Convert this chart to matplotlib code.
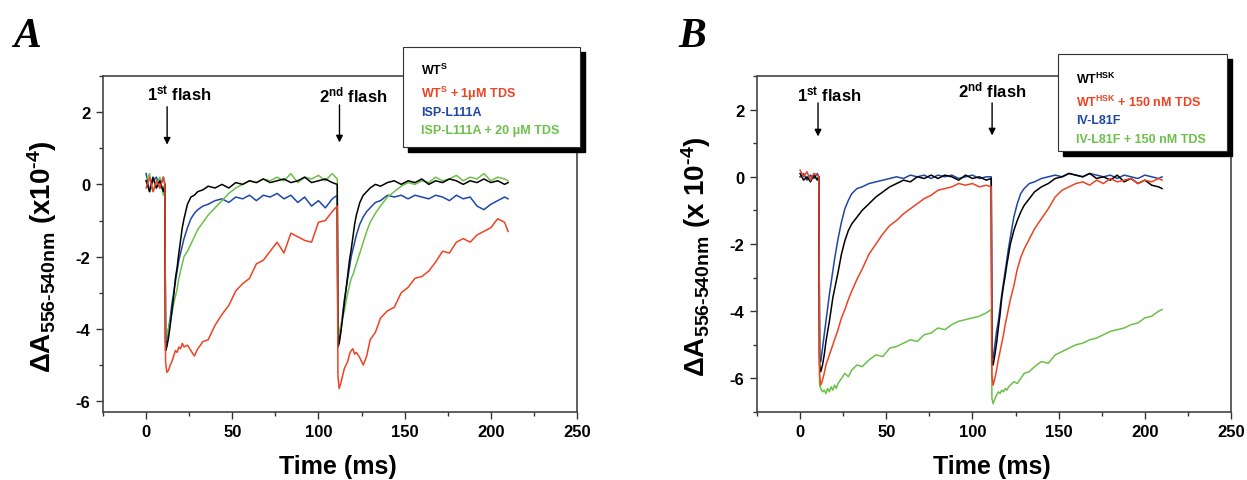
import matplotlib
matplotlib.use('Agg')
import matplotlib.pyplot as plt
from matplotlib.patches import Rectangle
from matplotlib.ticker import MultipleLocator

plt.rcParams['font.family'] = ['Liberation Sans', 'DejaVu Sans']
plt.rcParams['font.weight'] = 'bold'
plt.rcParams['axes.unicode_minus'] = False
plt.rcParams['mathtext.fontset'] = 'custom'
plt.rcParams['mathtext.rm'] = 'Liberation Sans:bold'
plt.rcParams['mathtext.bf'] = 'Liberation Sans:bold'
plt.rcParams['mathtext.it'] = 'Liberation Sans:bold:italic'
plt.rcParams['mathtext.default'] = 'rm'

# time axis shared by all traces (ms); flashes at ~11 ms and ~111 ms
t_ms = [0, 2, 4, 6, 8, 10, 10.9,
        11.3, 12, 13, 14, 15, 16, 17, 18, 19, 20, 21, 22,
        24, 26, 28, 30, 33, 36, 40,
        44, 48, 52, 56, 60, 64, 68, 72, 76, 80, 84, 88, 92, 96, 100, 104, 108,
        110.9, 111.3,
        112, 113, 114, 115, 116, 117, 118, 119, 120, 121, 122,
        124, 126, 128, 130, 133, 136, 140,
        144, 148, 152, 156, 160, 164, 168, 172, 176, 180, 184, 188, 192, 196, 200, 204, 208,
        210]

# panel A  (x 1e-4 absorbance)
a_wt = [0.1, -0.2, 0.2, -0.1, 0.1, -0.2, 0.0,
        -4.6, -4.5, -4.25, -3.9, -3.5, -3.1, -2.6, -2.3, -1.9, -1.55, -1.2, -0.95,
        -0.55, -0.35, -0.3, -0.2, -0.15, -0.05, -0.1,
        0.0, -0.1, 0.05, 0.0, 0.1, 0.05, 0.15, 0.05, 0.1, 0.15, 0.05, 0.1, 0.2, 0.05, 0.1, 0.15, 0.05,
        0.0, -4.5,
        -4.4, -4.1, -3.7, -3.3, -2.9, -2.5, -2.1, -1.8, -1.45, -1.1, -0.85,
        -0.5, -0.3, -0.2, -0.1, 0.0, -0.05, 0.05,
        0.1, 0.0, 0.1, 0.05, 0.15, 0.0, 0.1, 0.05, 0.15, 0.1, 0.0, 0.1, 0.05, 0.15, 0.05, 0.1, 0.0,
        0.05]
a_wt_tds = [-0.1, 0.2, -0.2, 0.1, -0.1, 0.2, 0.0,
            -4.9, -5.2, -5.15, -5.0, -4.9, -4.75, -4.6, -4.65, -4.5, -4.55, -4.4, -4.5,
            -4.45, -4.6, -4.75, -4.55, -4.35, -4.3, -3.9,
            -3.6, -3.35, -2.95, -2.75, -2.6, -2.2, -2.1, -1.85, -1.6, -1.9, -1.35, -1.45, -1.55, -1.6, -1.05, -1.0, -0.75,
            -0.6, -5.3,
            -5.65, -5.5, -5.3, -5.1, -5.0, -4.9, -4.7, -4.6, -4.55, -4.7, -4.65,
            -4.8, -5.0, -4.75, -4.3, -4.1, -3.7, -3.5,
            -3.4, -3.0, -2.85, -2.6, -2.55, -2.4, -2.15, -1.85, -1.9, -1.6, -1.5, -1.6, -1.4, -1.3, -1.2, -0.95, -1.05,
            -1.3]
a_isp = [0.3, -0.2, 0.1, 0.2, -0.1, 0.2, 0.0,
         -4.4, -4.3, -4.0, -3.7, -3.3, -3.0, -2.7, -2.4, -2.1, -1.9, -1.7, -1.5,
         -1.2, -0.95, -0.8, -0.7, -0.6, -0.55, -0.45,
         -0.4, -0.5, -0.35, -0.4, -0.3, -0.45, -0.3, -0.35, -0.25, -0.4, -0.3, -0.5, -0.35, -0.6, -0.45, -0.65, -0.4,
         -0.3, -4.4,
         -4.3, -4.0, -3.6, -3.2, -2.9, -2.6, -2.3, -2.0, -1.8, -1.6, -1.4,
         -1.1, -0.9, -0.75, -0.65, -0.5, -0.45, -0.3,
         -0.35, -0.3, -0.4, -0.3, -0.35, -0.4, -0.3, -0.35, -0.45, -0.3, -0.4, -0.35, -0.6, -0.7, -0.55, -0.45, -0.35,
         -0.4]
a_isp_tds = [0.1, 0.3, -0.2, 0.0, 0.2, -0.3, -0.1,
             -4.3, -4.2, -4.0, -3.8, -3.55, -3.3, -3.1, -2.9, -2.6, -2.4, -2.2, -2.0,
             -1.85, -1.65, -1.45, -1.25, -1.05, -0.85, -0.65,
             -0.45, -0.25, -0.1, 0.0, 0.1, 0.05, 0.15, 0.1, 0.2, 0.1, 0.3, 0.05, 0.2, 0.15, 0.25, 0.1, 0.3,
             0.15, -4.2,
             -4.1, -3.9, -3.7, -3.5, -3.25, -3.0, -2.8, -2.6, -2.5, -2.35, -2.2,
             -1.9, -1.6, -1.3, -1.05, -0.8, -0.6, -0.35,
             -0.2, -0.05, 0.05, 0.0, 0.1, 0.05, 0.2, 0.1, 0.15, 0.25, 0.1, 0.2, 0.15, 0.3, 0.1, 0.2, 0.15,
             0.1]

# panel B
b_wt = [0.1, -0.1, 0.0, -0.15, 0.05, -0.1, 0.0,
        -5.6, -5.8, -5.6, -5.3, -4.9, -4.6, -4.3, -3.95, -3.6, -3.35, -3.1, -2.85,
        -2.3, -1.9, -1.6, -1.4, -1.2, -1.0, -0.8,
        -0.6, -0.45, -0.3, -0.2, -0.1, -0.15, 0.0, -0.05, 0.05, -0.05, 0.05, 0.0, -0.1, 0.05, -0.05, 0.0, -0.1,
        -0.05, -5.5,
        -5.6, -5.3, -4.95, -4.5, -4.1, -3.6, -3.25, -2.95, -2.6, -2.3, -2.0,
        -1.6, -1.3, -1.05, -0.85, -0.65, -0.45, -0.3,
        -0.2, -0.05, 0.0, 0.1, 0.05, 0.0, 0.1, -0.05, 0.0, -0.1, 0.05, -0.15, -0.05, -0.2, -0.1, -0.25, -0.3,
        -0.35]
b_wt_tds = [0.2, 0.0, 0.15, -0.1, 0.1, 0.05, 0.0,
            -5.9, -6.2, -6.05, -5.85, -5.6, -5.45, -5.3, -5.15, -5.0, -4.85, -4.7, -4.55,
            -4.2, -3.95, -3.65, -3.4, -3.05, -2.75, -2.3,
            -2.0, -1.7, -1.45, -1.3, -1.1, -0.95, -0.8, -0.65, -0.55, -0.4, -0.35, -0.3, -0.2, -0.25, -0.2, -0.3, -0.25,
            -0.3, -5.9,
            -6.2, -6.0, -5.75, -5.45, -5.2, -4.95, -4.7, -4.4, -4.15, -3.9, -3.65,
            -3.25, -2.75, -2.4, -2.15, -1.85, -1.55, -1.25,
            -0.95, -0.6, -0.4, -0.3, -0.2, -0.15, -0.25, -0.1, -0.2, -0.05, -0.15, -0.1, -0.05, -0.2, -0.1, -0.15, -0.05,
            -0.1]
b_iv = [0.0, 0.1, -0.1, 0.05, -0.05, 0.1, 0.0,
        -5.4, -5.5, -5.1, -4.7, -4.3, -3.9, -3.5, -3.15, -2.8, -2.45, -2.15, -1.85,
        -1.35, -0.95, -0.7, -0.5, -0.35, -0.3, -0.2,
        -0.15, -0.1, -0.05, 0.0, -0.05, 0.05, 0.0, 0.05, -0.05, 0.05, 0.0, 0.05, -0.05, 0.0, 0.05, -0.05, 0.0,
        0.0, -5.3,
        -5.4, -5.0, -4.6, -4.3, -3.9, -3.5, -3.15, -2.8, -2.45, -2.1, -1.8,
        -1.2, -0.8, -0.5, -0.35, -0.2, -0.15, -0.05,
        0.0, 0.05, 0.0, 0.1, 0.05, 0.0, 0.1, 0.05, 0.0, 0.05, -0.05, 0.05, 0.0, -0.05, 0.05, 0.0, -0.05,
        0.0]
b_iv_tds = [0.0, 0.05, -0.05, 0.0, 0.05, -0.05, 0.0,
            -6.2, -6.3, -6.4, -6.35, -6.45, -6.3, -6.4, -6.25, -6.35, -6.2, -6.3, -6.15,
            -6.0, -5.85, -5.95, -5.75, -5.6, -5.65, -5.45,
            -5.3, -5.35, -5.1, -5.05, -4.95, -4.85, -4.9, -4.7, -4.65, -4.5, -4.55, -4.4, -4.3, -4.25, -4.2, -4.15, -4.05,
            -3.95, -6.6,
            -6.75, -6.6, -6.5, -6.4, -6.45, -6.35, -6.4, -6.3, -6.35, -6.25, -6.2,
            -6.1, -6.15, -6.0, -5.85, -5.8, -5.65, -5.5,
            -5.55, -5.3, -5.2, -5.1, -5.0, -4.95, -4.85, -4.8, -4.7, -4.6, -4.55, -4.5, -4.4, -4.35, -4.2, -4.15, -4.0,
            -3.95]

BLACK = '#000000'
RED = '#ee4322'
BLUE = '#1f47a6'
GREEN = '#6cc04a'

W, H = 1247, 481
fig = plt.figure(figsize=(W / 100, H / 100), dpi=100)
axA = fig.add_axes([103 / W, 1 - 413 / H, 474 / W, 336 / H])
axB = fig.add_axes([757 / W, 1 - 413 / H, 474 / W, 336 / H])


def style_axes(ax, ylim, ylabel):
    ax.set_xlim(-25, 250)
    ax.set_ylim(*ylim)
    ax.xaxis.set_major_locator(MultipleLocator(50))
    ax.xaxis.set_minor_locator(MultipleLocator(25))
    ax.yaxis.set_major_locator(MultipleLocator(2))
    ax.yaxis.set_minor_locator(MultipleLocator(1))
    ax.tick_params(which='both', direction='out', top=False, right=False,
                   color='#333333', width=1.0)
    ax.tick_params(which='major', length=5, labelsize=12, pad=4)
    ax.tick_params(which='minor', length=3)
    for s in ax.spines.values():
        s.set_color('#444444')
        s.set_linewidth(1.2)
    for lab in ax.get_xticklabels() + ax.get_yticklabels():
        lab.set_fontweight('bold')
    ax.set_xlabel('Time (ms)', fontsize=18, fontweight='bold', va='top')
    ax.xaxis.set_label_coords(0.495, -0.125)
    ax.set_ylabel(ylabel, fontsize=20, fontweight='bold')
    ax.yaxis.set_label_coords(-0.092, 0.465)


def flash_marks(ax, items):
    for label, tx, ty, ax_x, y_top, y_tip in items:
        ax.text(tx, ty, label, fontsize=12, fontweight='bold', ha='center', va='baseline')
        ax.annotate('', xy=(ax_x, y_tip), xytext=(ax_x, y_top),
                    arrowprops=dict(arrowstyle='-|>', color='black', lw=1.0,
                                    mutation_scale=10, shrinkA=0, shrinkB=0))


def draw_legend(x0, y0, x1, y1, tx, entries, baselines):
    shadow = Rectangle(((x0 + 5) / W, 1 - (y1 + 5) / H), (x1 - x0) / W, (y1 - y0) / H,
                       transform=fig.transFigure, facecolor='black', edgecolor='black', zorder=5)
    box = Rectangle((x0 / W, 1 - y1 / H), (x1 - x0) / W, (y1 - y0) / H,
                    transform=fig.transFigure, facecolor='white', edgecolor='#333333',
                    lw=0.8, zorder=6)
    fig.patches.extend([shadow, box])
    for (label, color), b in zip(entries, baselines):
        fig.text(tx / W, 1 - b / H, label, color=color, fontsize=9, fontweight='bold',
                 va='baseline', zorder=7)


# ---- panel A ----
axA.plot(t_ms, a_isp, color=BLUE, lw=1.1)
axA.plot(t_ms, a_isp_tds, color=GREEN, lw=1.1)
axA.plot(t_ms, a_wt, color=BLACK, lw=1.1)
axA.plot(t_ms, a_wt_tds, color=RED, lw=1.1)
style_axes(axA, (-6.3, 3), r'ΔA$_{556\text{-}540nm}$ (x10$^{\text{-}4}$)')
flash_marks(axA, [(r'1$^{st}$ flash', 19, 2.34, 12.2, 2.15, 1.1),
                  (r'2$^{nd}$ flash', 120, 2.31, 112.2, 2.2, 1.16)])

# ---- panel B ----
axB.plot(t_ms, b_iv_tds, color=GREEN, lw=1.1)
axB.plot(t_ms, b_iv, color=BLUE, lw=1.1)
axB.plot(t_ms, b_wt, color=BLACK, lw=1.1)
axB.plot(t_ms, b_wt_tds, color=RED, lw=1.1)
style_axes(axB, (-7, 3), r'ΔA$_{556\text{-}540nm}$ (x 10$^{\text{-}4}$)')
flash_marks(axB, [(r'1$^{st}$ flash', 16.8, 2.25, 10.4, 2.2, 1.2),
                  (r'2$^{nd}$ flash', 111.7, 2.4, 111.4, 2.2, 1.23)])

draw_legend(403, 48, 580, 148, 421,
            [(r'WT$^{S}$', BLACK), (r'WT$^{S}$ + 1μM TDS', RED),
             ('ISP-L111A', BLUE), ('ISP-L111A + 20 μM TDS', GREEN)],
            [75, 97.7, 116, 134.3])
draw_legend(1058, 55, 1227, 152, 1076,
            [(r'WT$^{HSK}$', BLACK), (r'WT$^{HSK}$ + 150 nM TDS', RED),
             ('IV-L81F', BLUE), ('IV-L81F + 150 nM TDS', GREEN)],
            [84.3, 106.7, 124, 142.7])

# panel letters
fig.text(13 / W, 1 - 47 / H, 'A', fontsize=30, fontweight='bold', fontstyle='italic',
         family='Liberation Serif', va='baseline')
fig.text(678 / W, 1 - 47 / H, 'B', fontsize=30, fontweight='bold', fontstyle='italic',
         family='Liberation Serif', va='baseline')

fig.savefig('out.png', dpi=100)
